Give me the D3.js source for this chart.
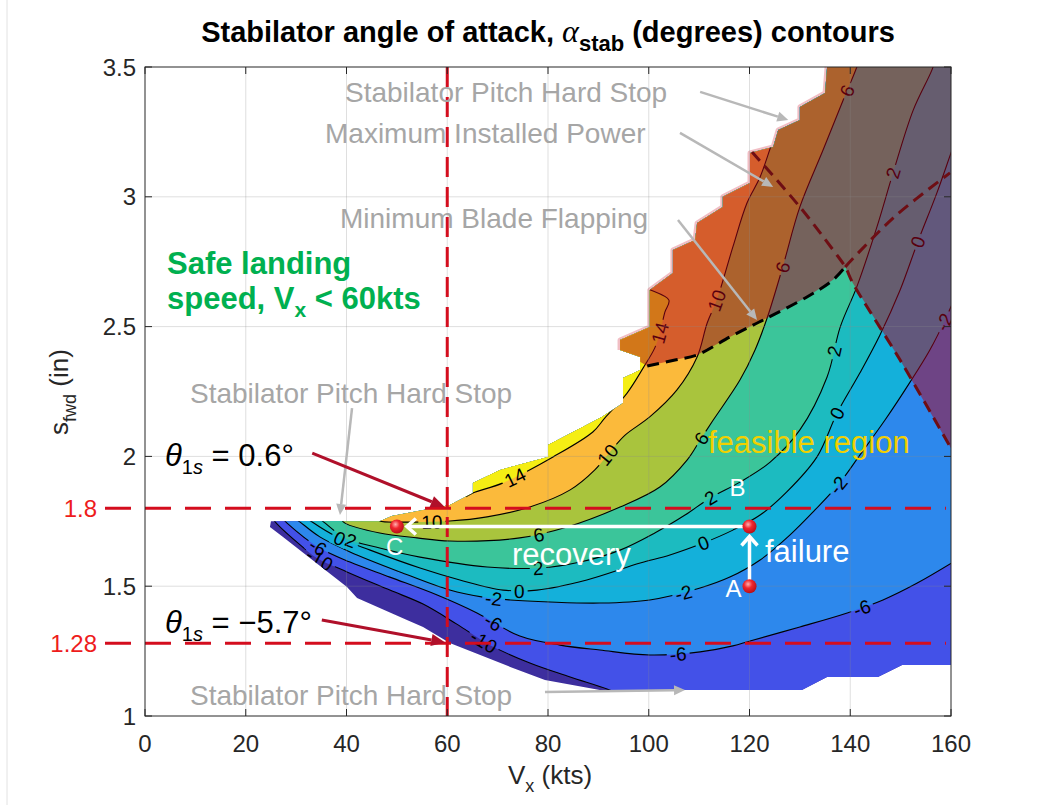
<!DOCTYPE html>
<html>
<head>
<meta charset="utf-8">
<script src="https://cdn.jsdelivr.net/npm/d3@7"></script>
<style>
  body { margin: 0; background: #fff; }
  svg text { font-family: Arial, "Liberation Sans", Helvetica, sans-serif; }
</style>
</head>
<body>
<svg id="chart" width="1042" height="805"></svg>
<script>
// ---------------- data ----------------
const xTicks = [0, 20, 40, 60, 80, 100, 120, 140, 160];
const yTicks = [1, 1.5, 2, 2.5, 3, 3.5];

// contour levels of alpha_stab (deg) and the fill colour of each band (lowest first)
const levels = [-10, -6, -2, 0, 2, 6, 10, 14];
const bandColors = ["#3d2e9e", "#4351e8", "#2d88ec", "#14b0da", "#1cbbc0",
                    "#3bc59a", "#a9c43d", "#fbba3b", "#f5ee14"];

// trimmed region of the (Vx, s_fwd) map
const feasibleBoundary = [
  [25,1.75],[46.6,1.75],[49,1.77],[60.5,1.813],[65.1,1.859],[65.1,1.898],[70.5,1.948],
  [80,1.998],[80,2.044],[90.7,2.152],[94.9,2.206],[94.9,2.302],[98.3,2.333],[98.3,2.383],
  [94.3,2.41],[94.3,2.448],[100.2,2.498],[100.2,2.641],[104.8,2.706],[104.8,2.795],
  [109.2,2.834],[109.6,2.899],[114.7,2.961],[114.7,3.0],[120.1,3.053],[120.1,3.169],
  [124.7,3.192],[125.7,3.257],[130,3.296],[130,3.346],[135,3.4],[135.4,3.5],[160,3.5],
  [160,1.196],[150.3,1.196],[145.5,1.15],[135.4,1.15],[130.4,1.1],[90.3,1.1],[79.4,1.139],
  [72.5,1.189],[60.5,1.281],[55.2,1.343],[52,1.37],[42.1,1.455],[40.1,1.497],[27.4,1.69],
  [24.8,1.728]
];

// contour lines (Vx kts, s_fwd in)
const contourNeg10 = [[25.4,1.759],[26.2,1.74],[30.8,1.659],[34.1,1.609],[40.1,1.555],[48.6,1.485],
  [55.2,1.431],[61.9,1.354],[68.5,1.273],[76.4,1.204],[84.4,1.15],[93.3,1.092],[98.3,1.042],[165.8,1.042]];
const contourNeg6 = [[27.4,1.759],[28.2,1.743],[34.3,1.651],[40.7,1.593],[48.6,1.535],[58,1.466],
  [65.9,1.397],[74.4,1.308],[82.4,1.273],[90.3,1.254],[100.2,1.235],[110.2,1.247],[116.7,1.27],
  [120.1,1.289],[130,1.343],[139.4,1.397],[146.5,1.447],[153.3,1.512],[161.8,1.609]];
const contourNeg2 = [[30,1.759],[30.8,1.747],[34.7,1.69],[40.7,1.632],[50.6,1.555],[60.5,1.485],
  [67.1,1.458],[72.5,1.447],[80.4,1.439],[90.3,1.435],[100.2,1.447],[110.2,1.493],[116.1,1.535],
  [122.1,1.601],[128,1.697],[133,1.794],[137.6,1.89],[141.9,2.005],[146.9,2.14],[151.9,2.287],
  [155.8,2.41],[158.8,2.525],[161.8,2.66]];
const contour0 = [[32.4,1.759],[33.2,1.747],[38.1,1.69],[44.7,1.639],[54.6,1.57],[62.5,1.524],
  [71.1,1.485],[77.8,1.485],[87.7,1.524],[98.3,1.589],[104.2,1.62],[110.8,1.666],[116.7,1.716],
  [122.1,1.774],[127.4,1.863],[133.4,1.998],[137.4,2.167],[141.9,2.321],[145.9,2.468],
  [149.9,2.641],[153.4,2.826],[157.2,3.015],[160.2,3.18],[161.8,3.265]];
const contour2 = [[34.7,1.759],[35.5,1.747],[39.7,1.686],[46.6,1.647],[54.6,1.612],[67.9,1.574],
  [78.4,1.57],[86.4,1.593],[94.3,1.639],[101.2,1.705],[107.2,1.774],[112.2,1.84],[118.1,1.901],
  [124.1,1.978],[130,2.102],[135.4,2.306],[138,2.498],[141.3,2.653],[145.3,2.884],[148.5,3.092],
  [152.5,3.334],[156.2,3.488],[157.2,3.546]];
const contour6 = [[38.9,1.759],[39.7,1.743],[46.6,1.705],[54,1.686],[60.5,1.674],[74.4,1.686],
  [83.8,1.728],[94.3,1.805],[102.2,1.882],[107.6,1.986],[110.2,2.063],[112.8,2.14],[118.1,2.294],
  [121.1,2.41],[123.5,2.533],[126.6,2.73],[130,2.961],[134.6,3.18],[138.6,3.373],[141.3,3.5],[142.3,3.565]];
const contour10 = [[45.9,1.763],[46.6,1.751],[52,1.747],[60.5,1.751],[67.9,1.767],[76.4,1.805],
  [84.4,1.871],[89.3,1.948],[92.3,2.017],[95.3,2.082],[100.2,2.152],[105.6,2.256],[109.6,2.383],
  [111.6,2.514],[113.5,2.602],[116.7,2.807],[119.5,2.976],[122.1,3.076],[124.7,3.219],[126,3.277],[128,3.354]];
const contour14 = [[63.7,1.844],[65.1,1.859],[71.1,1.898],[81,1.998],[88.9,2.094],[91.3,2.148],
  [95.7,2.244],[98.9,2.341],[101.2,2.418],[102.2,2.475],[103.2,2.556],[104,2.602],[99.9,2.645],[98.3,2.66]];

// inline contour labels: [level, Vx, s_fwd]
const labelSpots = [
  [10,57,1.747],[0,38.5,1.678],[2,41.1,1.69],[-6,34.3,1.647],[-10,34.3,1.593],
  [14,73.4,1.917],[10,91.9,2.005],[6,78,1.705],[6,109.6,2.082],[2,78,1.57],[2,112.2,1.84],
  [2,136,2.41],[0,74.4,1.485],[0,110.8,1.666],[0,137.4,2.167],[-2,69.1,1.447],[-2,106.8,1.478],
  [-2,137.6,1.89],[-6,68.5,1.343],[-6,105.8,1.235],[-6,142.5,1.408],[-10,66.5,1.262],
  [14,102.2,2.475],[10,113.5,2.602],[6,126.6,2.73],[6,140,3.404],[2,148.5,3.092],[0,153.4,2.826],[-2,157.8,2.525]
];

// operating limits
const flapBoundary = [[94.3,2.41],[99.7,2.348],[105.2,2.371],[109.6,2.391],[116.1,2.46],[120.7,2.506],
  [123.5,2.533],[131.4,2.614],[136.6,2.68],[139,2.73]];
const powerLimit = [[120.5,3.173],[130,2.961],[136.6,2.795],[139,2.73],[140.5,2.668],[149.9,2.371],[160.2,2.025]];
const flapExtension = [[139,2.73],[148.5,2.918],[159.8,3.092]];

// landing speed and stabilator pitch stops
const safeSpeed = 60;
const stopHigh = 1.8;
const stopLow = 1.28;

// operating points
const pointA = [120, 1.5];
const pointB = [120, 1.73];
const pointC = [50, 1.73];

// annotation arrows: [from, to] in data units
const grayArrows = [
  [[110.2,3.404],[127.7,3.296]],
  [[106.2,3.246],[124.7,3.038]],
  [[105.8,2.911],[121.5,2.525]],
  [[41.1,2.186],[38.7,1.774]],
  [[79.4,1.092],[107.2,1.1]]
];
const redArrows = [
  [[33.2,2.013],[59.5,1.805]],
  [[35.1,1.37],[59.6,1.283]]
];

// ---------------- drawing ----------------
const W = 1042, H = 805;
const x = d3.scaleLinear().domain([0, 160]).range([145, 951]);
const y = d3.scaleLinear().domain([1, 3.5]).range([716, 67]);
const svg = d3.select("#chart");
const defs = svg.append("defs");

const smooth = d3.line().x(d => x(d[0])).y(d => y(d[1])).curve(d3.curveCatmullRom.alpha(0.5));
const straight = d3.line().x(d => x(d[0])).y(d => y(d[1]));

// faint frame line on the left
svg.append("line").attr("x1", 7).attr("x2", 7).attr("y1", 0).attr("y2", H)
  .attr("stroke", "#e2e2e2").attr("stroke-width", 1);

// outline of the region beyond the flapping / power limits
const beyond = flapBoundary.concat(powerLimit.filter(p => p[0] > 139));
const lastB = beyond[beyond.length - 1];
const beyondPath = straight(beyond) +
  `L${x(175)},${y(lastB[1])}L${x(175)},${y(4)}L${x(85)},${y(4)}L${x(85)},${y(beyond[0][1])}Z`;
defs.append("clipPath").attr("id", "beyondClip").append("path").attr("d", beyondPath);

// clip to the trimmed region
defs.append("clipPath").attr("id", "regionClip")
  .append("path").attr("d", straight(feasibleBoundary) + "Z");

// soft pink rim along the stepped edge of the shaded part
svg.append("g").attr("clip-path", "url(#beyondClip)")
  .append("path").attr("d", straight(feasibleBoundary.slice(14, 32)))
  .attr("fill", "none").attr("stroke", "rgba(225,110,125,0.45)").attr("stroke-width", 5)
  .attr("stroke-linejoin", "round");

const field = svg.append("g").attr("clip-path", "url(#regionClip)");
field.append("rect").attr("x", 140).attr("y", 60).attr("width", 820).attr("height", 660)
  .attr("fill", bandColors[0]);

const contourSets = [contourNeg10, contourNeg6, contourNeg2, contour0, contour2, contour6, contour10, contour14];

// filled bands: paint the high side of each contour in ascending order
contourSets.forEach((pts, i) => {
  const first = pts[0], last = pts[pts.length - 1];
  const d = smooth(pts) + `L${x(last[0])},-60L-60,-60L-60,${y(first[1])}Z`;
  field.append("path").attr("d", d).attr("fill", bandColors[i + 1]);
});

// contour lines
const linesG = field.append("g").attr("fill", "none").attr("stroke", "#000").attr("stroke-width", 1.1);
const linePaths = contourSets.map(pts => linesG.append("path").attr("d", smooth(pts)).node());

// contour labels placed on their lines
const labelG = field.append("g");
const gaps = [];
labelSpots.forEach(([lev, vx, s]) => {
  const node = linePaths[levels.indexOf(lev)];
  const L = node.getTotalLength();
  const tx = x(vx), ty = y(s);
  let best = 0, bd = Infinity;
  for (let t = 0; t <= L; t += 1) {
    const p = node.getPointAtLength(t);
    const dd = (p.x - tx) ** 2 + (p.y - ty) ** 2;
    if (dd < bd) { bd = dd; best = t; }
  }
  const p = node.getPointAtLength(best);
  const p1 = node.getPointAtLength(Math.max(0, best - 6));
  const p2 = node.getPointAtLength(Math.min(L, best + 6));
  let ang = Math.atan2(p2.y - p1.y, p2.x - p1.x) * 180 / Math.PI;
  if (ang > 90) ang -= 180;
  if (ang < -90) ang += 180;
  const t = labelG.append("text")
    .attr("transform", `translate(${p.x},${p.y}) rotate(${ang})`)
    .attr("text-anchor", "middle").attr("dy", "0.36em")
    .attr("font-size", 19).attr("fill", "#000").text(String(lev));
  gaps.push({ x: p.x, y: p.y, ang, w: t.node().getComputedTextLength() });
});
const mask = defs.append("mask").attr("id", "labelGaps").attr("maskUnits", "userSpaceOnUse")
  .attr("x", 0).attr("y", 0).attr("width", W).attr("height", H);
mask.append("rect").attr("width", W).attr("height", H).attr("fill", "#fff");
gaps.forEach(g => mask.append("rect")
  .attr("x", -g.w / 2 - 3).attr("y", -8).attr("width", g.w + 6).attr("height", 16)
  .attr("transform", `translate(${g.x},${g.y}) rotate(${g.ang})`).attr("fill", "#000"));
linesG.attr("mask", "url(#labelGaps)");

// shading of the region beyond the flapping / power limits
field.append("path").attr("d", beyondPath).attr("fill", "rgba(175,0,30,0.5)");

// grid
const grid = svg.append("g").attr("stroke", "rgba(140,140,140,0.28)").attr("stroke-width", 1);
xTicks.slice(1, -1).forEach(v => grid.append("line").attr("x1", x(v)).attr("x2", x(v)).attr("y1", y(1)).attr("y2", y(3.5)));
yTicks.slice(1, -1).forEach(v => grid.append("line").attr("y1", y(v)).attr("y2", y(v)).attr("x1", x(0)).attr("x2", x(160)));

// limit curves
svg.append("path").attr("d", smooth(flapBoundary.slice(1))).attr("fill", "none")
  .attr("stroke", "#000").attr("stroke-width", 3).attr("stroke-dasharray", "12,7");
svg.append("path").attr("d", smooth(powerLimit)).attr("fill", "none")
  .attr("stroke", "#6e0e14").attr("stroke-width", 3).attr("stroke-dasharray", "12,7");
svg.append("path").attr("d", smooth(flapExtension)).attr("fill", "none")
  .attr("stroke", "#6e0e14").attr("stroke-width", 3).attr("stroke-dasharray", "12,7");

// landing-speed and pitch-stop lines
const red = "#d40d1e";
svg.append("line").attr("x1", x(safeSpeed)).attr("x2", x(safeSpeed)).attr("y1", y(3.5)).attr("y2", y(1))
  .attr("stroke", red).attr("stroke-width", 3).attr("stroke-dasharray", "20,10");
[stopHigh, stopLow].forEach(v => svg.append("line")
  .attr("x1", 105).attr("x2", 946).attr("y1", y(v)).attr("y2", y(v))
  .attr("stroke", red).attr("stroke-width", 3).attr("stroke-dasharray", "26,14"));

// arrows
function arrow(g, a, b, color, width, hl, hw) {
  const x1 = x(a[0]), y1 = y(a[1]), x2 = x(b[0]), y2 = y(b[1]);
  const t = Math.atan2(y2 - y1, x2 - x1);
  const bx = x2 - hl * Math.cos(t), by = y2 - hl * Math.sin(t);
  g.append("line").attr("x1", x1).attr("y1", y1).attr("x2", bx).attr("y2", by)
    .attr("stroke", color).attr("stroke-width", width);
  const px = -Math.sin(t) * hw / 2, py = Math.cos(t) * hw / 2;
  g.append("path").attr("d", `M${x2},${y2}L${bx + px},${by + py}L${bx - px},${by - py}Z`).attr("fill", color);
}
const ann = svg.append("g");
grayArrows.forEach(([a, b]) => arrow(ann, a, b, "#b8b8b8", 2.5, 11, 10));
redArrows.forEach(([a, b]) => arrow(ann, a, b, "#b0102a", 3, 14, 12));

// gray annotation texts
const grayText = [
  ["Stabilator Pitch Hard Stop", 345, 102],
  ["Maximum Installed Power", 325, 143],
  ["Minimum Blade Flapping", 340, 228],
  ["Stabilator Pitch Hard Stop", 190, 403],
  ["Stabilator Pitch Hard Stop", 190, 705]
];
grayText.forEach(([s, tx, ty]) => ann.append("text").attr("x", tx).attr("y", ty)
  .attr("font-size", 28).attr("fill", "#a6a6a6").text(s));

// safe landing note
const green = ann.append("g").attr("fill", "#00b050").attr("font-weight", "bold").attr("font-size", 31);
green.append("text").attr("x", 167).attr("y", 274).text("Safe landing");
const g2 = green.append("text").attr("x", 167).attr("y", 309);
g2.append("tspan").text("speed, V");
g2.append("tspan").attr("font-size", 21).attr("dy", 8).text("x");
g2.append("tspan").attr("dy", -8).text(" < 60kts");

// theta_1s notes
function thetaNote(ty, val) {
  const t = ann.append("text").attr("x", 165).attr("y", ty).attr("font-size", 31)
    .attr("font-family", "'Liberation Serif','Times New Roman',serif").attr("fill", "#000");
  t.append("tspan").attr("font-style", "italic").text("θ");
  t.append("tspan").attr("font-size", 20).attr("dy", 8).text("1");
  t.append("tspan").attr("font-size", 20).attr("font-style", "italic").text("s");
  t.append("tspan").attr("dy", -8).text(" = " + val + "°");
}
thetaNote(466, "0.6");
thetaNote(633, "−5.7");

// red stop labels
ann.append("text").attr("x", 97).attr("y", y(stopHigh)).attr("dy", "0.36em").attr("text-anchor", "end")
  .attr("font-size", 24).attr("fill", "#ee1c1c").text("1.8");
ann.append("text").attr("x", 97).attr("y", y(stopLow)).attr("dy", "0.36em").attr("text-anchor", "end")
  .attr("font-size", 24).attr("fill", "#ee1c1c").text("1.28");

// failure / recovery arrows
const wg = ann.append("g").attr("stroke", "#fff").attr("stroke-width", 3.5).attr("fill", "none");
wg.append("line").attr("x1", x(pointA[0])).attr("x2", x(pointB[0])).attr("y1", y(pointA[1])).attr("y2", y(pointB[1]) + 10);
wg.append("polyline").attr("points", `${x(pointB[0]) - 8},${y(pointB[1]) + 19} ${x(pointB[0])},${y(pointB[1]) + 10} ${x(pointB[0]) + 8},${y(pointB[1]) + 19}`);
wg.append("line").attr("x1", x(pointB[0])).attr("x2", x(pointC[0]) + 10).attr("y1", y(pointB[1])).attr("y2", y(pointC[1]));
wg.append("polyline").attr("points", `${x(pointC[0]) + 19},${y(pointC[1]) - 8} ${x(pointC[0]) + 10},${y(pointC[1])} ${x(pointC[0]) + 19},${y(pointC[1]) + 8}`);

// operating points
const grad = defs.append("radialGradient").attr("id", "dot").attr("cx", "40%").attr("cy", "35%").attr("r", "65%");
grad.append("stop").attr("offset", "0%").attr("stop-color", "#ffb0b0");
grad.append("stop").attr("offset", "45%").attr("stop-color", "#f0262e");
grad.append("stop").attr("offset", "100%").attr("stop-color", "#b8101a");
[pointA, pointB, pointC].forEach(p => ann.append("circle").attr("cx", x(p[0])).attr("cy", y(p[1])).attr("r", 7)
  .attr("fill", "url(#dot)"));

const wt = ann.append("g").attr("fill", "#fff");
wt.append("text").attr("x", x(pointA[0]) - 8).attr("y", y(pointA[1]) + 11).attr("text-anchor", "end").attr("font-size", 24).text("A");
wt.append("text").attr("x", x(pointB[0]) - 20).attr("y", y(pointB[1]) - 30).attr("font-size", 24).text("B");
wt.append("text").attr("x", x(pointC[0]) - 11).attr("y", y(pointC[1]) + 29).attr("font-size", 24).text("C");
wt.append("text").attr("x", 512).attr("y", 565).attr("font-size", 31).text("recovery");
wt.append("text").attr("x", 765).attr("y", 562).attr("font-size", 31).text("failure");
ann.append("text").attr("x", 708).attr("y", 453).attr("font-size", 31).attr("fill", "#f2d000").text("feasible region");

// axes box and ticks
const axis = svg.append("g").attr("stroke", "#262626").attr("stroke-width", 1).attr("fill", "none");
axis.append("rect").attr("x", x(0)).attr("y", y(3.5)).attr("width", x(160) - x(0)).attr("height", y(1) - y(3.5));
xTicks.forEach(v => {
  axis.append("line").attr("x1", x(v)).attr("x2", x(v)).attr("y1", y(1)).attr("y2", y(1) - 7);
  axis.append("line").attr("x1", x(v)).attr("x2", x(v)).attr("y1", y(3.5)).attr("y2", y(3.5) + 7);
});
yTicks.forEach(v => {
  axis.append("line").attr("y1", y(v)).attr("y2", y(v)).attr("x1", x(0)).attr("x2", x(0) + 7);
  axis.append("line").attr("y1", y(v)).attr("y2", y(v)).attr("x1", x(160)).attr("x2", x(160) - 7);
});
const tl = svg.append("g").attr("fill", "#262626").attr("font-size", 24);
xTicks.forEach(v => tl.append("text").attr("x", x(v)).attr("y", y(1) + 36).attr("text-anchor", "middle").text(v));
yTicks.forEach(v => tl.append("text").attr("x", x(0) - 9).attr("y", y(v)).attr("dy", "0.36em")
  .attr("text-anchor", "end").text(v));

// axis titles
const xl = svg.append("text").attr("x", 550).attr("y", 784).attr("text-anchor", "middle")
  .attr("font-size", 26).attr("fill", "#262626");
xl.append("tspan").text("V");
xl.append("tspan").attr("font-size", 18).attr("dy", 8).text("x");
xl.append("tspan").attr("dy", -8).text(" (kts)");
const yl = svg.append("text").attr("transform", "translate(68,392) rotate(-90)").attr("text-anchor", "middle")
  .attr("font-size", 26).attr("fill", "#262626");
yl.append("tspan").text("s");
yl.append("tspan").attr("font-size", 18).attr("dy", 8).text("fwd");
yl.append("tspan").attr("dy", -8).text(" (in)");

// title
const tt = svg.append("text").attr("x", 548).attr("y", 42).attr("text-anchor", "middle")
  .attr("font-size", 29).attr("font-weight", "bold").attr("fill", "#000");
tt.append("tspan").text("Stabilator angle of attack, ");
tt.append("tspan").attr("font-family", "'Liberation Serif','Times New Roman',serif").attr("font-style", "italic")
  .attr("font-weight", "normal").attr("font-size", 32).text("α");
tt.append("tspan").attr("font-size", 22).attr("dy", 9).text("stab");
tt.append("tspan").attr("dy", -9).text(" (degrees) contours");
</script>
</body>
</html>
